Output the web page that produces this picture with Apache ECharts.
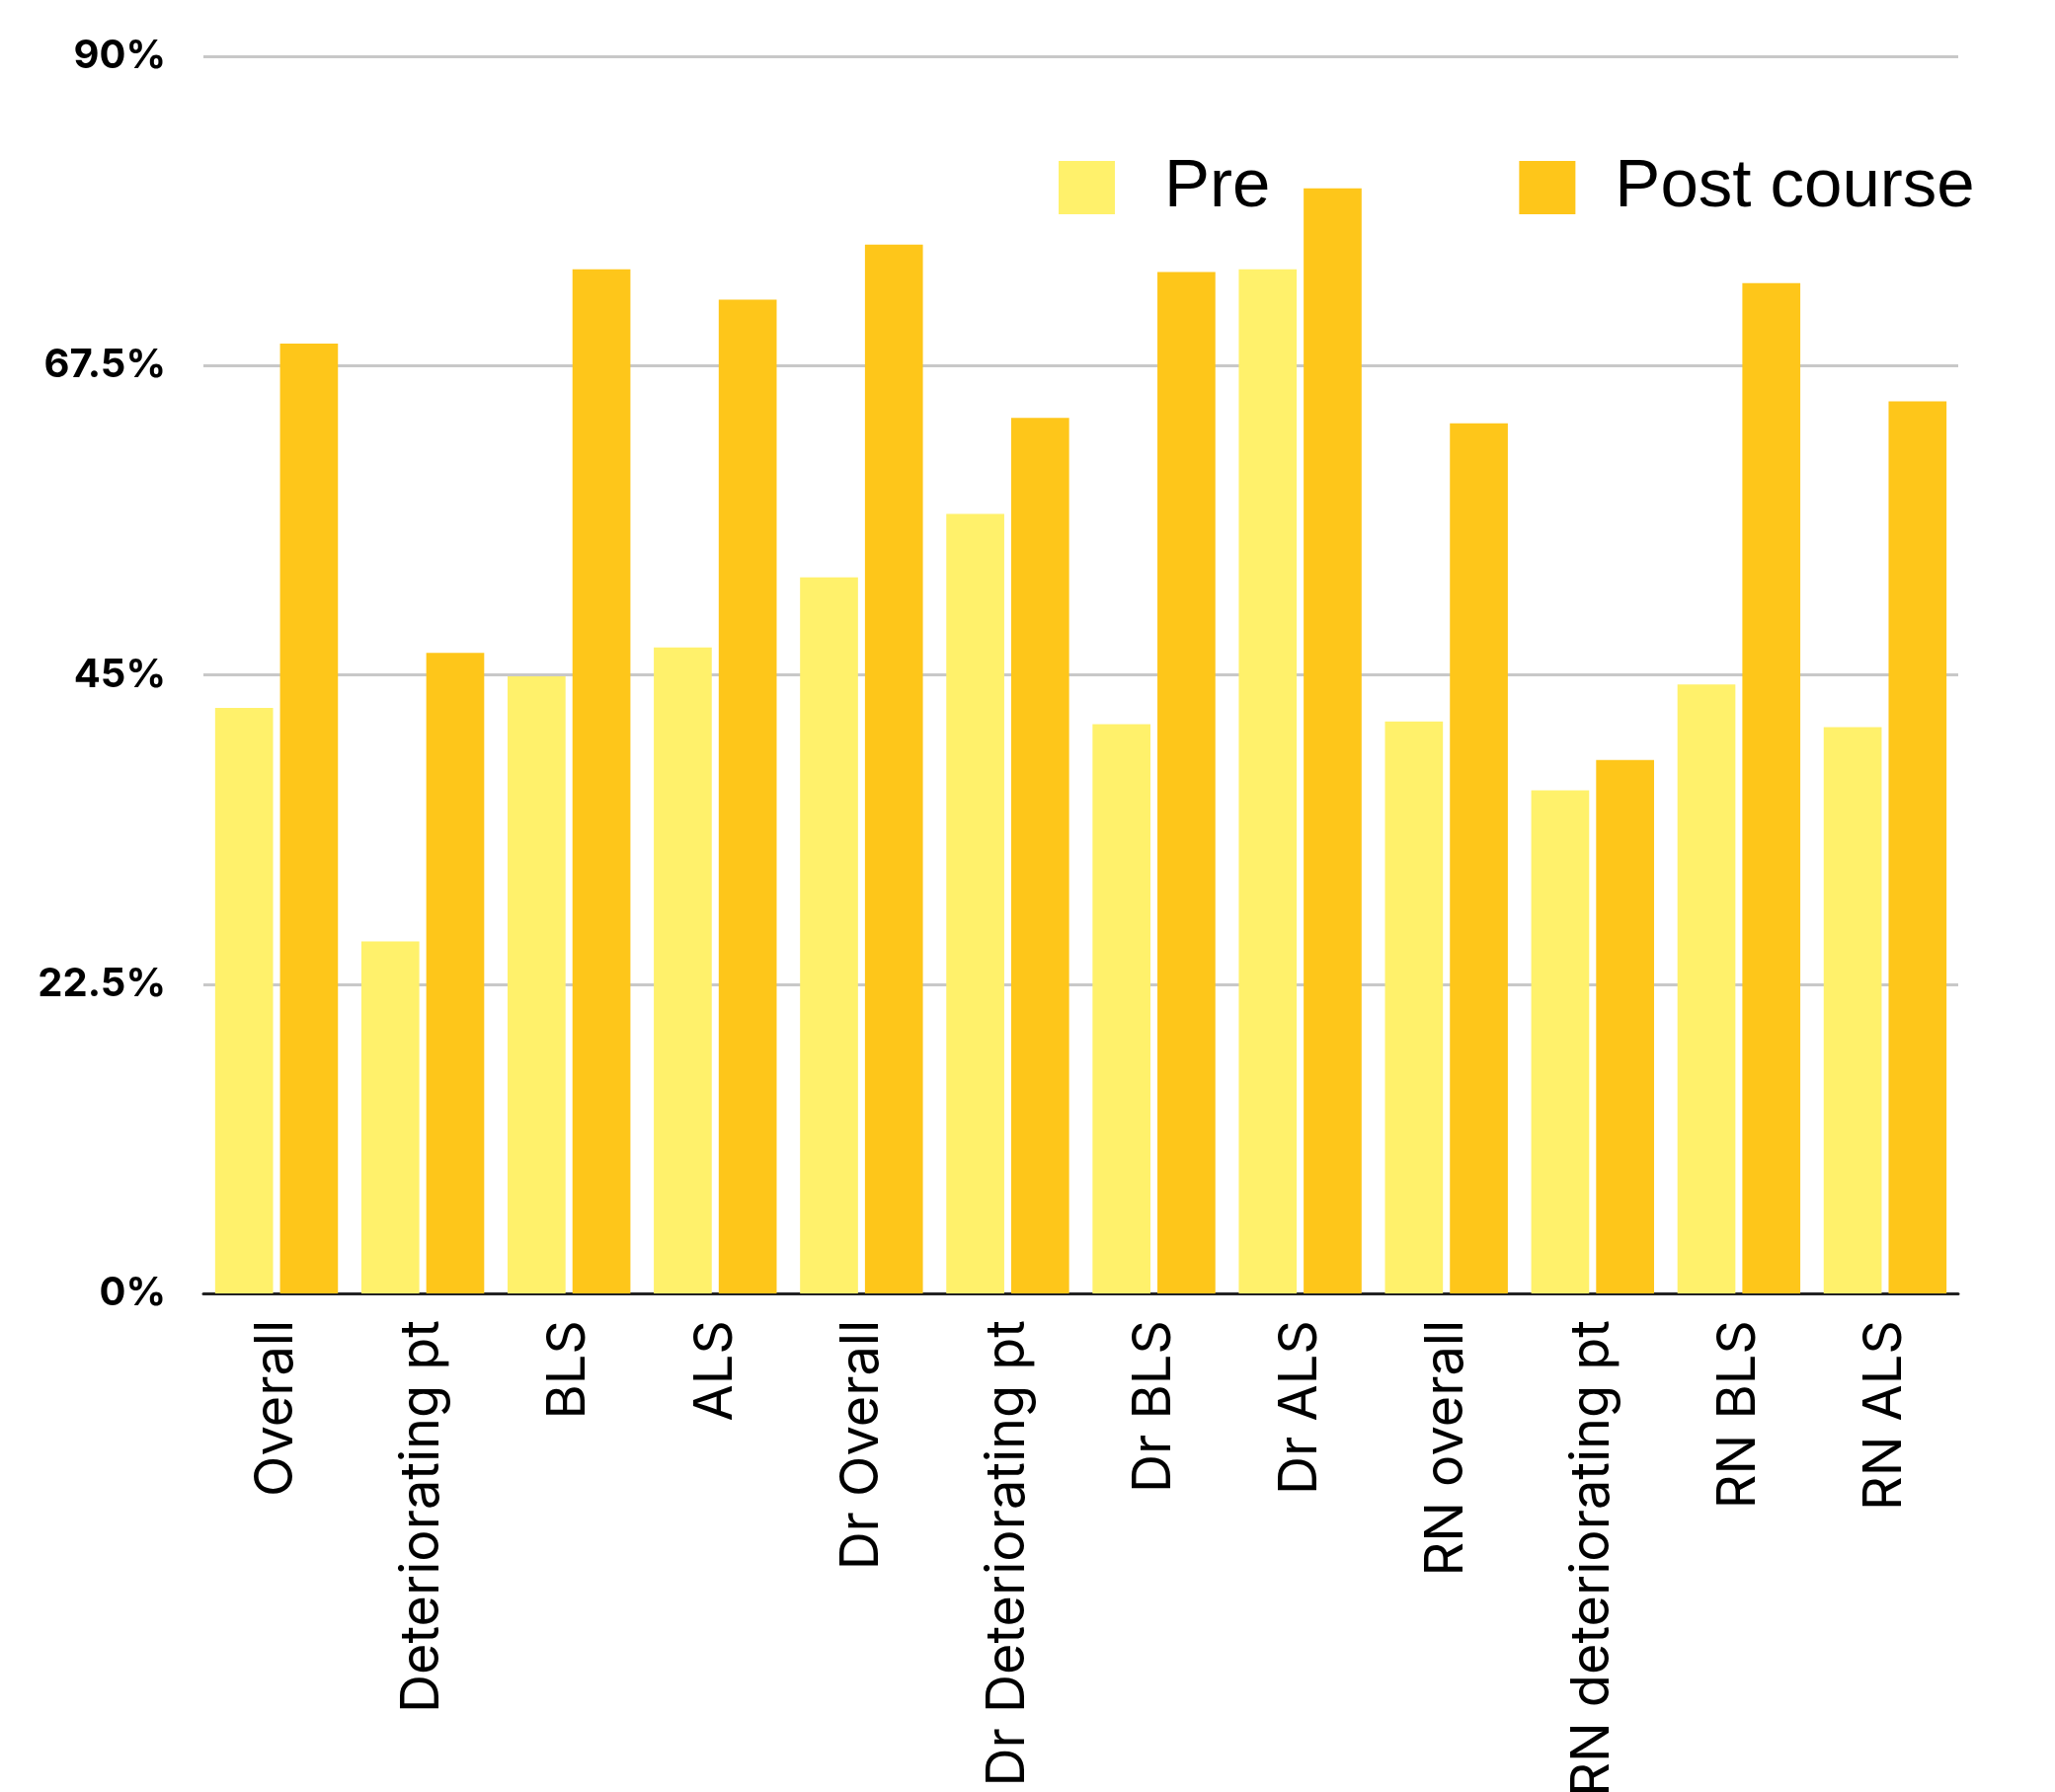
<!DOCTYPE html>
<html>
<head>
<meta charset="utf-8">
<script src="https://cdn.jsdelivr.net/npm/echarts@6/dist/echarts.min.js"></script>
<style>
html,body{margin:0;padding:0;background:#fff;}
#chart{width:2081px;height:1815px;}
</style>
</head>
<body>
<div id="chart"></div>
<script>
const categories = ["Overall","Deteriorating pt","BLS","ALS","Dr Overall","Dr Deteriorating pt","Dr BLS","Dr ALS","RN overall","RN deteriorating pt","RN BLS","RN ALS"];
const preValues = [42.6, 25.6, 44.9, 47.0, 52.1, 56.7, 41.4, 74.5, 41.6, 36.6, 44.3, 41.2];
const postValues = [69.1, 46.6, 74.5, 72.3, 76.3, 63.7, 74.3, 80.4, 63.3, 38.8, 73.5, 64.9];
const seriesNames = ["Pre", "Post course"];
const yTicks = [0, 22.5, 45, 67.5, 90];

const chart = echarts.init(document.getElementById('chart'));
chart.setOption({
  animation: false,
  backgroundColor: '#ffffff',
  grid: { left: 206, right: 98, top: 57, bottom: 505, containLabel: false, outerBoundsMode: 'none' },
  legend: {
    left: 1067, top: 142,
    itemWidth: 57, itemHeight: 54, itemGap: 252,
    icon: 'rect',
    textStyle: { fontFamily: 'Liberation Sans', fontSize: 69, lineHeight: 70, color: '#000', padding: [16,0,0,45] },
    data: [
      { name: seriesNames[0] },
      { name: seriesNames[1], textStyle: { padding: [16,0,0,35] } }
    ]
  },
  xAxis: {
    type: 'category',
    data: categories,
    axisLine: { lineStyle: { color: '#222', width: 3 } },
    axisTick: { show: false },
    axisLabel: { rotate: 90, margin: 27, color: '#000', fontFamily: 'Inter', fontSize: 54, interval: 0 }
  },
  yAxis: {
    type: 'value',
    min: yTicks[0], max: yTicks[yTicks.length-1], interval: yTicks[1] - yTicks[0],
    axisLine: { show: false },
    axisTick: { show: false },
    splitLine: { lineStyle: { color: '#c8c8c8', width: 3 } },
    axisLabel: { margin: 38, color: '#000', fontFamily: 'Inter', fontWeight: 'bold', fontSize: 40, formatter: v => v + '%' }
  },
  series: [
    { name: seriesNames[0], type: 'bar', data: preValues, itemStyle: { color: '#FFF16B' }, barGap: '12%', barCategoryGap: '16%' },
    { name: seriesNames[1], type: 'bar', data: postValues, itemStyle: { color: '#FEC61A' }, barGap: '12%', barCategoryGap: '16%' }
  ]
});
</script>
</body>
</html>
